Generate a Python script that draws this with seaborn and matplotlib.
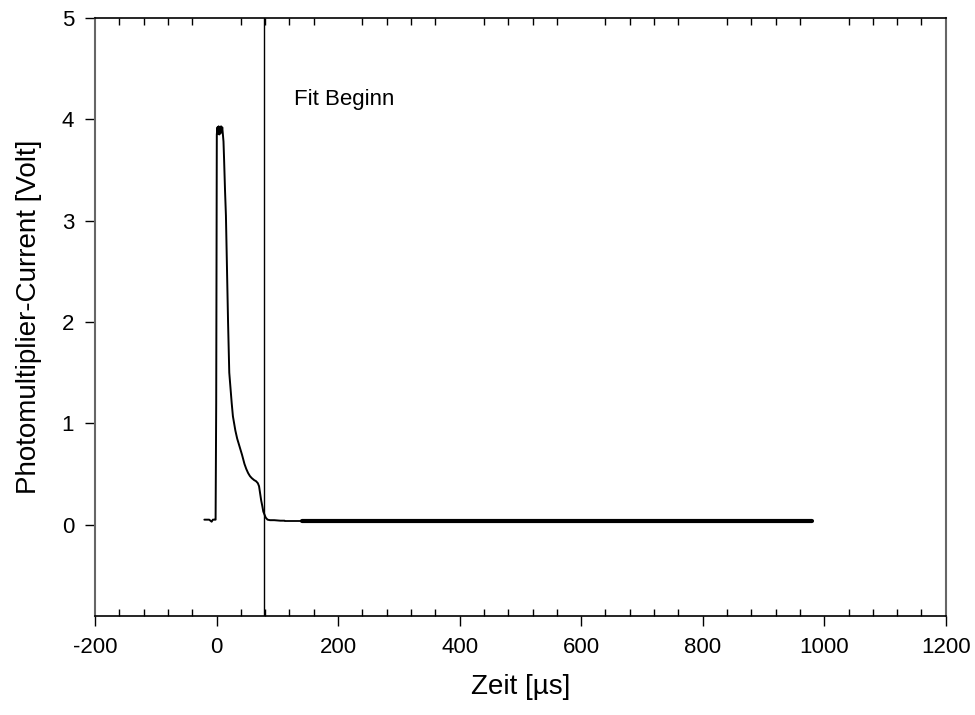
import matplotlib
matplotlib.use("Agg")
import matplotlib.pyplot as plt
import seaborn as sns
import pandas as pd
from matplotlib.ticker import MultipleLocator

sns.set_style("ticks")
plt.rcParams['font.family'] = ['Liberation Sans', 'DejaVu Sans']
plt.rcParams['axes.unicode_minus'] = False
plt.rcParams['text.color'] = 'black'
plt.rcParams['axes.labelcolor'] = 'black'
plt.rcParams['xtick.color'] = 'black'
plt.rcParams['ytick.color'] = 'black'

# Pulse trace (time in µs, photomultiplier signal in V)
time_us = [-20, -12, -8, -6, -3, -1.5, -0.5, 0.5, 1.5, 2.5, 3.5, 4.5, 5.5, 6.5, 7.5,
           8.5, 9.5, 10.5, 11.5, 12.5, 14, 15.5, 17.5, 19, 21, 23, 25, 27, 29, 31,
           34, 38, 42, 46, 49, 52, 55, 58, 62, 65, 68, 70, 71.5, 73.5, 75.5, 77,
           79, 81, 84, 88, 95, 105, 112]
signal_v = [0.05, 0.05, 0.03, 0.05, 0.05, 0.05, 1.2, 3.85, 3.92, 3.86, 3.93, 3.85,
            3.92, 3.86, 3.93, 3.88, 3.92, 3.85, 3.78, 3.6, 3.3, 3.05, 2.45, 2.0,
            1.5, 1.35, 1.2, 1.07, 1.0, 0.93, 0.85, 0.77, 0.69, 0.6, 0.55, 0.51,
            0.48, 0.46, 0.44, 0.43, 0.41, 0.38, 0.32, 0.24, 0.18, 0.13, 0.1, 0.07,
            0.05, 0.045, 0.045, 0.04, 0.04]

# Noisy baseline after the pulse
tail_time = [140, 200, 300, 400, 500, 600, 700, 800, 900, 980]
tail_v = [0.04, 0.04, 0.04, 0.04, 0.04, 0.04, 0.04, 0.04, 0.04, 0.04]

fit_start = 78
fit_label = "Fit Beginn"

df = pd.DataFrame({"t": time_us, "v": signal_v})
df_tail = pd.DataFrame({"t": tail_time, "v": tail_v})

fig = plt.figure(figsize=(9.75, 7.15), dpi=100)
ax = fig.add_axes([0.0974, 0.1385, 0.8726, 0.8365])

sns.lineplot(data=df, x="t", y="v", ax=ax, color="black", lw=1.4,
             estimator=None, sort=False)
sns.lineplot(data=df_tail, x="t", y="v", ax=ax, color="black", lw=3.0,
             estimator=None, sort=False)
ax.plot([112, 140], [0.04, 0.04], color="black", lw=1.3)
ax.axvline(fit_start, color="black", lw=1)
ax.text(128, 4.19, fit_label, fontsize=16, va="center", ha="left", color="black")

ax.set_xlim(-200, 1200)
ax.set_ylim(-0.9, 5)
ax.xaxis.set_major_locator(MultipleLocator(200))
ax.xaxis.set_minor_locator(MultipleLocator(40))
ax.yaxis.set_major_locator(MultipleLocator(1))

ax.tick_params(axis="x", which="major", direction="out", length=7, width=1,
               labelsize=16, top=False, bottom=True, pad=8)
ax.tick_params(axis="x", which="minor", direction="in", length=5, width=1,
               top=True, bottom=True)
ax.tick_params(axis="y", which="major", direction="out", length=7, width=1,
               labelsize=16, left=True, right=False, pad=8)

ax.set_xlabel("Zeit [µs]", fontsize=20, labelpad=12)
ax.set_ylabel("Photomultiplier-Current [Volt]", fontsize=20, labelpad=14)

for side in ["left", "right"]:
    ax.spines[side].set_color("#666666")
    ax.spines[side].set_linewidth(1.5)
for side in ["top", "bottom"]:
    ax.spines[side].set_color("black")
    ax.spines[side].set_linewidth(1.2)
    ax.spines[side].set_visible(True)
ax.spines["right"].set_visible(True)

fig.savefig("out.png", dpi=100)
